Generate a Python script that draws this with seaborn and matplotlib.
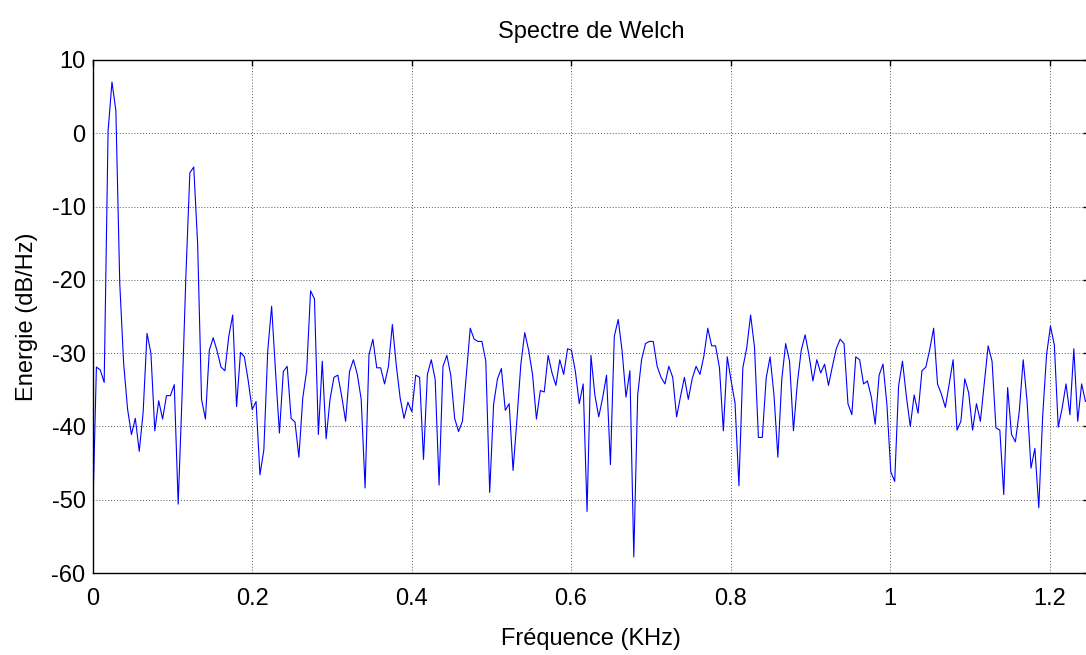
import numpy as np
import pandas as pd
import matplotlib
matplotlib.use("Agg")
import matplotlib.pyplot as plt
import seaborn as sns

# Welch estimate: fs = 2.5 kHz, nfft = 512 -> 257 one-sided bins
fs_khz = 2.5
nfft = 512

# Power spectral density in dB/Hz, one value per frequency bin
psd_db = [
    -53.3, -31.9, -32.3, -34.0, 0.3, 7.0, 3.1, -20.5, -31.4, -37.6,
    -41.1, -38.9, -43.4, -38.1, -27.3, -30.0, -40.6, -36.5, -39.0, -35.8,
    -35.8, -34.3, -50.6, -35.8, -19.2, -5.4, -4.6, -15.1, -36.3, -39.0,
    -29.6, -27.9, -29.7, -31.9, -32.4, -27.7, -24.8, -37.3, -29.9, -30.5,
    -33.8, -37.7, -36.6, -46.6, -43.2, -29.7, -23.6, -32.5, -40.9, -32.5,
    -31.8, -38.9, -39.4, -44.2, -36.1, -32.4, -21.5, -22.6, -41.1, -31.1,
    -41.7, -36.3, -33.3, -33.0, -35.9, -39.3, -32.5, -30.9, -32.9, -36.3,
    -48.4, -30.2, -28.1, -32.0, -32.0, -34.2, -31.8, -26.1, -31.6, -36.1,
    -38.9, -36.7, -38.0, -33.0, -33.3, -44.5, -32.9, -30.9, -33.6, -48.0,
    -31.8, -30.3, -33.0, -38.9, -40.7, -39.3, -32.9, -26.6, -28.1, -28.4,
    -28.4, -31.1, -49.0, -37.0, -33.5, -32.1, -37.8, -36.9, -46.0, -39.0,
    -31.5, -27.2, -29.6, -32.9, -39.0, -35.1, -35.3, -30.3, -32.7, -34.4,
    -30.9, -32.9, -29.4, -29.6, -32.5, -36.9, -34.2, -51.6, -30.3, -35.7,
    -38.7, -36.1, -33.0, -45.2, -27.7, -25.4, -29.7, -36.0, -32.4, -57.8,
    -35.7, -30.9, -28.7, -28.4, -28.4, -31.8, -33.3, -34.2, -31.8, -33.3,
    -38.7, -35.9, -33.3, -36.3, -33.5, -31.8, -32.9, -30.4, -26.6, -29.0,
    -29.0, -32.0, -40.6, -30.5, -33.8, -36.8, -48.1, -32.0, -29.3, -24.8,
    -29.2, -41.5, -41.5, -33.4, -30.5, -35.7, -44.2, -33.6, -28.7, -31.1,
    -40.6, -34.1, -29.6, -27.5, -30.3, -33.8, -30.9, -32.7, -31.5, -34.4,
    -31.8, -29.4, -28.1, -28.7, -36.9, -38.4, -30.5, -30.9, -34.2, -33.8,
    -36.0, -39.7, -33.0, -31.5, -37.0, -46.2, -47.5, -34.5, -31.1, -35.9,
    -40.0, -35.7, -38.2, -32.4, -31.9, -29.5, -26.6, -34.2, -35.6, -37.4,
    -34.2, -30.9, -40.5, -39.3, -33.5, -35.4, -40.5, -36.9, -39.3, -34.2,
    -29.0, -31.1, -40.2, -40.5, -49.3, -34.7, -41.1, -42.1, -37.9, -30.9,
    -36.6, -45.7, -43.0, -51.1, -38.6, -30.2, -26.3, -28.9, -40.1, -37.5,
    -34.2, -38.4, -29.4, -39.3, -34.2, -36.6, -36.2,
]

x_ticks = [0, 0.2, 0.4, 0.6, 0.8, 1.0, 1.2]
x_tick_labels = ["0", "0.2", "0.4", "0.6", "0.8", "1", "1.2"]
y_ticks = [-60, -50, -40, -30, -20, -10, 0, 10]

freq_khz = np.arange(len(psd_db)) * fs_khz / nfft
df = pd.DataFrame({"freq": freq_khz, "psd": psd_db})

sns.set_style("white")
plt.rcParams["font.family"] = ["Liberation Sans", "DejaVu Sans"]
plt.rcParams["axes.unicode_minus"] = False
plt.rcParams["text.color"] = "black"
plt.rcParams["axes.labelcolor"] = "black"

fig = plt.figure(figsize=(10.86, 6.55), dpi=100)
ax = fig.add_axes([92.5 / 1086, 1 - 573 / 655, 996.9 / 1086, 513 / 655])

sns.lineplot(data=df, x="freq", y="psd", ax=ax, color="#0000ff",
             linewidth=0.8, estimator=None)

ax.set_xlim(0, 1.25)
ax.set_ylim(-60, 10)
ax.set_xticks(x_ticks)
ax.set_xticklabels(x_tick_labels)
ax.set_yticks(y_ticks)

ax.grid(True, color="#555555", linestyle=(0, (1, 2)), linewidth=0.7)
ax.set_axisbelow(True)

for side in ["left", "bottom", "top", "right"]:
    ax.spines[side].set_visible(True)
    ax.spines[side].set_color("black")
    ax.spines[side].set_linewidth(1.0)

ax.tick_params(axis="both", which="major", direction="in", length=4,
               width=1.0, colors="black", labelsize=17,
               top=True, right=True)
ax.tick_params(axis="x", pad=11)
ax.tick_params(axis="y", pad=5)

ax.set_title("Spectre de Welch", fontsize=17, pad=16, color="black")
ax.set_xlabel("Fréquence (KHz)", fontsize=17, labelpad=13, color="black")
ax.set_ylabel("Energie (dB/Hz)", fontsize=17, labelpad=10, color="black")

fig.savefig("out.png", dpi=100, facecolor="white")
